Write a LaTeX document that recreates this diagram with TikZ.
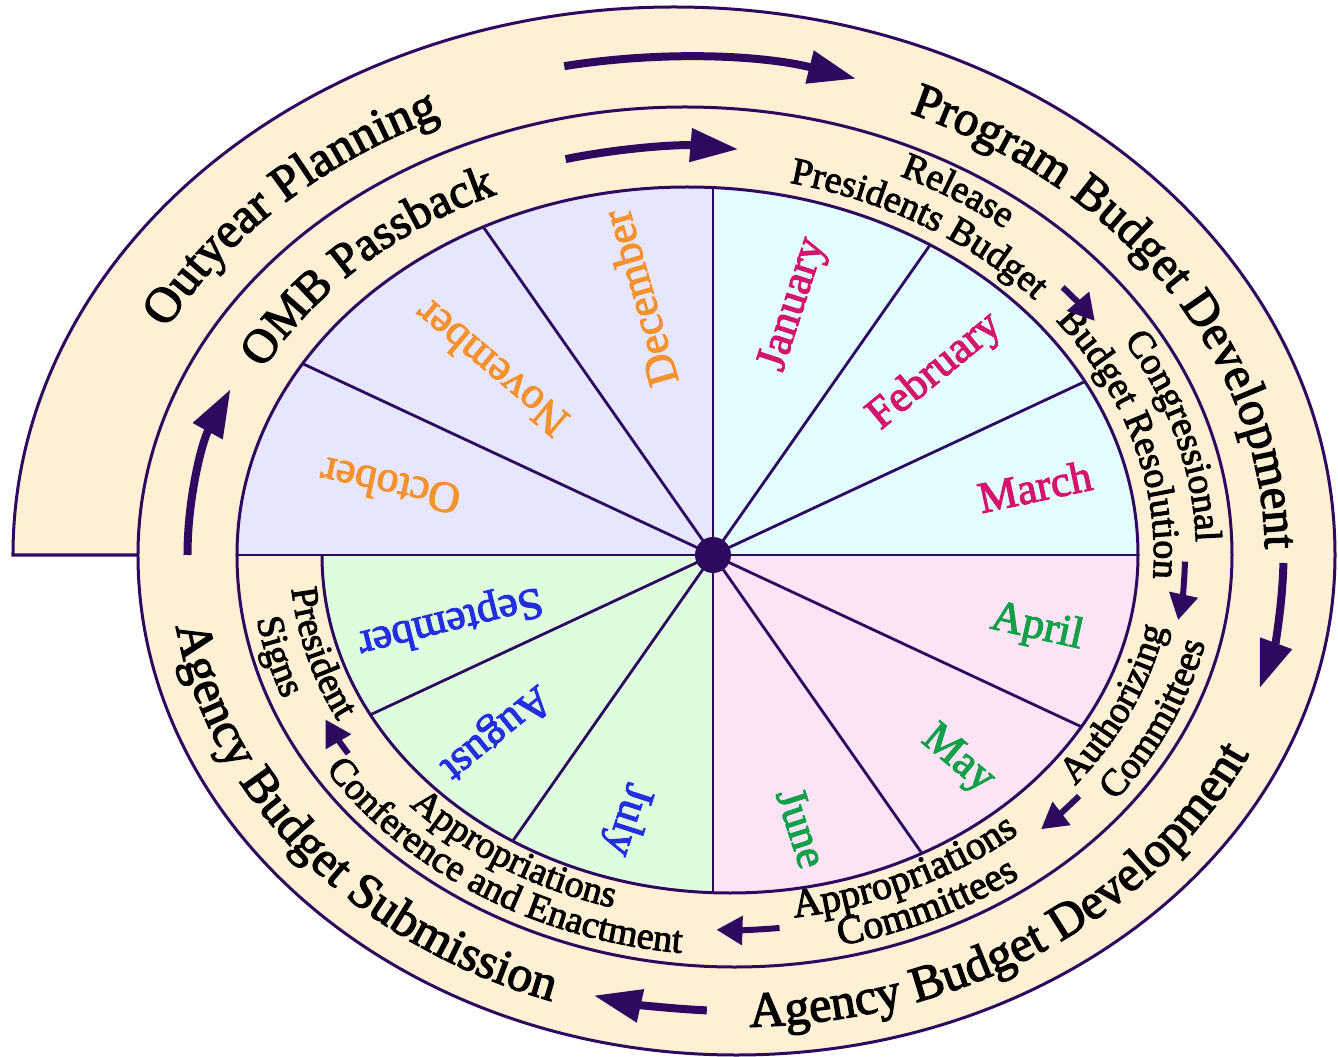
\documentclass[tikz,border=0pt]{standalone}
\usepackage{fontspec}
\setmainfont{Liberation Serif}[FakeBold=2.5]
\usetikzlibrary{arrows.meta,decorations.text}
\definecolor{ink}{RGB}{45,10,95}
\definecolor{cream}{RGB}{254,240,212}
\definecolor{lavender}{RGB}{230,230,252}
\definecolor{icecyan}{RGB}{226,252,255}
\definecolor{blush}{RGB}{250,228,246}
\definecolor{mint}{RGB}{222,252,222}
\definecolor{orangetext}{RGB}{245,146,45}
\definecolor{magentatext}{RGB}{213,20,108}
\definecolor{greentext}{RGB}{20,160,75}
\definecolor{bluetext}{RGB}{35,45,225}

% text set along an elliptic arc: centre x, x radius, y radius, start, end, size, text
\newcommand{\ringtext}[7]{%
  \path[decorate, decoration={text along path, text align=center,
      text={|\fontsize{#6}{#6}\selectfont|#7}}]
    ([shift={(#1,0)}]#4:#2 and #3)
    arc[start angle=#4, end angle=#5, x radius=#2, y radius=#3];}
% arrow along an elliptic arc: style, centre x, x radius, y radius, start, end
\newcommand{\ringflow}[6]{%
  \draw[#1] ([shift={(#2,0)}]#5:#3 and #4)
    arc[start angle=#5, end angle=#6, x radius=#3, y radius=#4];}

\begin{document}
\begin{tikzpicture}[x=1pt, y=1pt,
    ring/.style={draw=ink, line width=3pt},
    spoke/.style={draw=ink, line width=2.8pt},
    bigflow/.style={draw=ink, line width=8pt, -{Triangle[length=48pt,width=32pt]}},
    smallflow/.style={draw=ink, line width=6pt, -{Triangle[length=26pt,width=28pt]}},
    month/.style={font=\fontsize{44}{44}\selectfont, anchor=center, inner sep=0pt}
  ]
    \useasboundingbox (-713,-502) rectangle (625,555);

    % spiral band
    \fill[cream] (-700,0) arc[start angle=180, end angle=0, x radius=661, y radius=548]
      arc[start angle=0, end angle=-180, x radius=598.5, y radius=500] -- cycle;

    % month wheel
    \begin{scope}
      \clip (-476,0) arc[start angle=180, end angle=0, x radius=450.5, y radius=368]
        arc[start angle=0, end angle=-180, x radius=408, y radius=338] -- cycle;
      \fill[lavender] (0,0) rectangle (-700,500);
      \fill[icecyan] (0,0) rectangle (700,500);
      \fill[blush] (0,0) rectangle (700,-500);
      \fill[mint] (0,0) rectangle (-700,-500);
      \foreach \a in {25,55,125,155,-25,-55,-125,-155}
        \draw[spoke] (0,0) -- (\a:800);
      \draw[spoke] (0,-500) -- (0,500);
    \end{scope}
    \draw[spoke] (-476,0) -- (425,0);

    % spiral outline
    \draw[ring] (-575,0) -- (-700,0)
      arc[start angle=180, end angle=0, x radius=661, y radius=548]
      arc[start angle=0, end angle=-180, x radius=598.5, y radius=500]
      arc[start angle=180, end angle=0, x radius=547, y radius=448]
      arc[start angle=0, end angle=-180, x radius=497.5, y radius=412]
      arc[start angle=180, end angle=0, x radius=450.5, y radius=368]
      arc[start angle=0, end angle=-180, x radius=408, y radius=338];

    \node[circle, fill=ink, minimum size=36pt, inner sep=0pt] (hub) at (0,0) {};

    % months
    \node[month, text=orangetext, rotate=168] (oct) at (168:330) {October};
    \node[month, text=orangetext, rotate=140] (nov) at (140:290) {November};
    \node[month, text=orangetext, rotate=106] (dec) at (106:267) {December};
    \node[month, text=magentatext, rotate=72] (jan) at (72:263) {January};
    \node[month, text=magentatext, rotate=39.5] (feb) at (39.5:288) {February};
    \node[month, text=magentatext, rotate=12] (mar) at (12:329) {March};
    \node[month, text=greentext, rotate=-12.7] (apr) at (-12.7:332) {April};
    \node[month, text=greentext, rotate=-40] (may) at (-40:319) {May};
    \node[month, text=greentext, rotate=-72] (jun) at (-72:287) {June};
    \node[month, text=bluetext, rotate=-108] (jul) at (-108:278) {July};
    \node[month, text=bluetext, rotate=-141] (aug) at (-141:281) {August};
    \node[month, text=bluetext, rotate=-166] (sep) at (-166:271) {September};

    % outer ring
    \ringtext{-31.5}{583.5}{480}{164}{104}{50}{Outyear Planning}
    \ringtext{-31.5}{583.5}{480}{76}{-10}{49}{Program Budget Development}
    \ringtext{22.9}{566.2}{471.8}{-98}{-14}{50}{Agency Budget Development}
    \ringtext{22.9}{566.2}{471.8}{-182}{-100}{50}{Agency Budget Submission}

    % inner ring
    \ringtext{-26.3}{480.4}{392.8}{159}{107}{48}{OMB Passback}
    \ringtext{-27.05}{510.3}{417.6}{74}{42}{38}{Release}
    \ringtext{-25.9}{466.9}{381.6}{87}{31}{38}{Presidents Budget}
    \ringtext{-27.05}{510.3}{417.6}{40}{-8}{38}{Congressional}
    \ringtext{-25.9}{466.9}{381.6}{42}{-8}{38}{Budget Resolution}
    \ringtext{18.7}{442.0}{366.1}{-45}{-5}{38}{Authorizing}
    \ringtext{20.8}{483.2}{400.2}{-45}{-5}{38}{Committees}
    \ringtext{18.7}{442.0}{366.1}{-95}{-35}{40}{Appropriations}
    \ringtext{20.8}{483.2}{400.2}{-90}{-40}{40}{Committees}
    \ringtext{18.7}{442.0}{366.1}{-152}{-92}{38}{Appropriations}
    \ringtext{20.8}{483.2}{400.2}{-163}{-83}{38}{Conference and Enactment}
    \ringtext{18.7}{442.0}{366.1}{-181}{-147}{38}{President}
    \ringtext{20.8}{483.2}{400.2}{-180}{-150}{38}{Signs}

    % flow arrows
    \ringflow{bigflow}{-33.5}{604}{498}{101}{73}
    \ringflow{bigflow}{22.5}{548}{456}{-1}{-17}
    \ringflow{bigflow}{22.5}{548}{456}{-93}{-105}
    \ringflow{bigflow}{-26.75}{498.75}{408}{180}{156}
    \ringflow{bigflow}{-26.75}{498.75}{408}{104}{84}
    \ringflow{smallflow}{-26.75}{498.75}{408}{41}{35}
    \ringflow{smallflow}{19.25}{452.75}{375}{-1}{-10}
    \ringflow{smallflow}{19.25}{452.75}{375}{-40}{-47}
    \ringflow{smallflow}{19.25}{452.75}{375}{-84}{-92}
    \ringflow{smallflow}{19.25}{452.75}{375}{-148}{-154}
\end{tikzpicture}
\end{document}
